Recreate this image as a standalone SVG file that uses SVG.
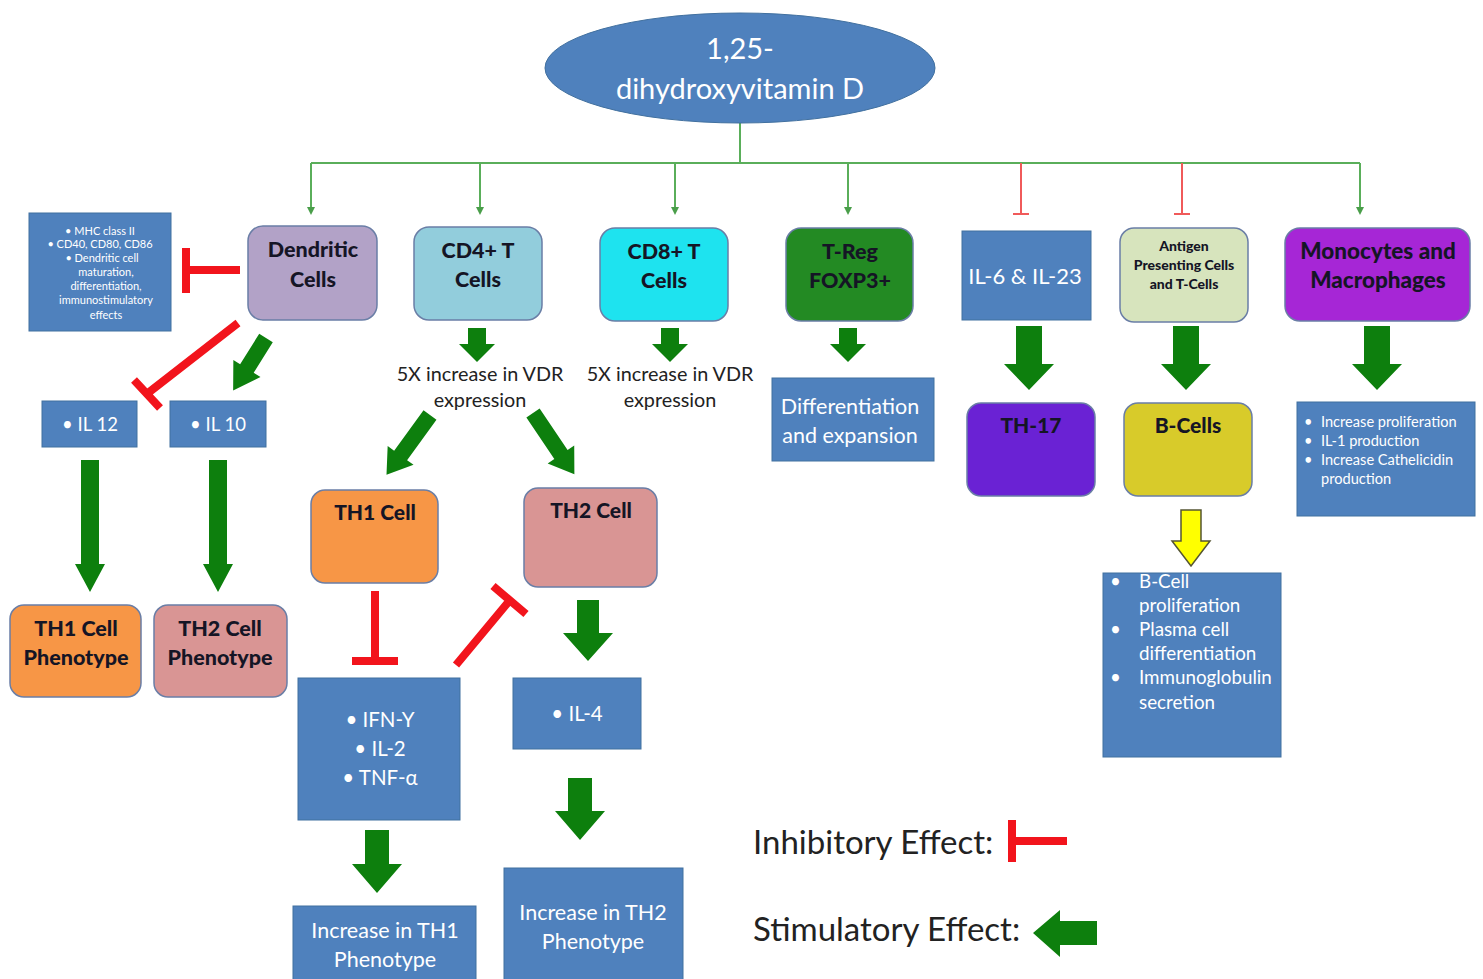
<svg xmlns="http://www.w3.org/2000/svg" width="1483" height="979" viewBox="0 0 1483 979">
<defs>
<style>
.bx{fill:#4f81bd;stroke:#41709f;stroke-width:1}
.rn{stroke:#6a7ea6;stroke-width:1.5}
.wt{fill:#ffffff;font-family:Lato,"Open Sans",sans-serif}
.nt{fill:#151525;font-family:Lato,"Open Sans",sans-serif;font-weight:900}
.dk{fill:#222222;font-family:Lato,"Open Sans",sans-serif}
.ga{fill:#0d7f0d}
.thin{stroke:#5aae5a;stroke-width:2;fill:none}
.thinr{stroke:#f05a5a;stroke-width:2;fill:none}
.inh{stroke:#f2141c;stroke-width:8;fill:none}
</style>
<marker id="ah" markerWidth="8" markerHeight="8" refX="4" refY="4" orient="auto" markerUnits="userSpaceOnUse">
<path d="M0,0 L8,4 L0,8 Z" fill="#4a9e4a"/>
</marker>
</defs>
<rect width="1483" height="979" fill="#ffffff"/>

<g id="connectors">
<path class="thin" d="M740,123 V163 M311,163 H1360"/>
<path class="thin" d="M311,163 V211" marker-end="url(#ah)"/>
<path class="thin" d="M480,163 V211" marker-end="url(#ah)"/>
<path class="thin" d="M675,163 V211" marker-end="url(#ah)"/>
<path class="thin" d="M848,163 V211" marker-end="url(#ah)"/>
<path class="thin" d="M1360,163 V211" marker-end="url(#ah)"/>
<path class="thinr" d="M1021,163 V214 M1013,214 H1029"/>
<path class="thinr" d="M1182,163 V214 M1174,214 H1190"/>

<path class="inh" d="M240,270 H186 M186,248 V293"/>
<path class="inh" d="M238,323 L148,393 M134,380 L160,408"/>
<path class="inh" d="M375,591 V660 M352,661 H398"/>
<path class="inh" d="M456,665 L510,600 M493,586 L526,614"/>

<polygon class="ga" transform="translate(266,338) rotate(122)" points="0,-8 36,-8 36,-16 62,0 36,16 36,8 0,8"/>
<polygon class="ga" points="81,460 99,460 99,564 105,564 90,592 75,564 81,564"/>
<polygon class="ga" points="209,460 227,460 227,564 233,564 218,592 203,564 209,564"/>
<polygon class="ga" points="468,328 486,328 486,344 495,344 477,362 459,344 468,344"/>
<polygon class="ga" points="661,328 679,328 679,344 688,344 670,362 652,344 661,344"/>
<polygon class="ga" points="839,328 857,328 857,344 866,344 848,362 830,344 839,344"/>
<polygon class="ga" transform="translate(430,415) rotate(126)" points="0,-8 50,-8 50,-16 74,0 50,16 50,8 0,8"/>
<polygon class="ga" transform="translate(533,413) rotate(56)" points="0,-8 50,-8 50,-16 74,0 50,16 50,8 0,8"/>
<polygon class="ga" points="577,600 599,600 599,633 613,633 588,661 563,633 577,633"/>
<polygon class="ga" points="365,830 389,830 389,864 402,864 377,893 352,864 365,864"/>
<polygon class="ga" points="568,778 592,778 592,811 605,811 580,840 555,811 568,811"/>
<polygon class="ga" points="1016,326 1042,326 1042,364 1054,364 1029,390 1004,364 1016,364"/>
<polygon class="ga" points="1173,326 1199,326 1199,364 1211,364 1186,390 1161,364 1173,364"/>
<polygon class="ga" points="1364,326 1390,326 1390,364 1402,364 1377,390 1352,364 1364,364"/>
<polygon points="1181,510 1201,510 1201,541 1210,541 1191,566 1172,541 1181,541" fill="#ffff00" stroke="#555533" stroke-width="1.5"/>
</g>

<g id="vitd">
<ellipse cx="740" cy="68" rx="195" ry="55" fill="#4f81bd" stroke="#41709f" stroke-width="1"/>
<text class="wt" x="740" y="59" font-size="29" text-anchor="middle">1,25-</text>
<text class="wt" x="740" y="99" font-size="29" text-anchor="middle">dihydroxyvitamin D</text>
</g>

<g id="mhc">
<rect class="bx" x="29" y="213" width="142" height="118"/>
<g class="wt" font-size="11" text-anchor="middle">
<text x="100" y="235">•   MHC class II</text>
<text x="100" y="248">•  CD40, CD80, CD86</text>
<text x="102" y="262">•   Dendritic cell</text>
<text x="106" y="276">maturation,</text>
<text x="106" y="290">differentiation,</text>
<text x="106" y="304">immunostimulatory</text>
<text x="106" y="319">effects</text>
</g>
</g>

<g id="dendritic">
<rect class="rn" x="248" y="226" width="129" height="94" rx="15" fill="#b2a2c7"/>
<text class="nt" x="313" y="257" font-size="21.5" text-anchor="middle">Dendritic</text>
<text class="nt" x="313" y="287" font-size="21.5" text-anchor="middle">Cells</text>
</g>

<g id="il12">
<rect class="bx" x="42" y="401" width="95" height="46"/>
<text class="wt" x="90" y="431" font-size="18.5" text-anchor="middle">• IL 12</text>
</g>
<g id="il10">
<rect class="bx" x="170" y="401" width="96" height="46"/>
<text class="wt" x="218" y="431" font-size="18.5" text-anchor="middle">• IL 10</text>
</g>

<g id="th1pheno">
<rect class="rn" x="10" y="605" width="131" height="92" rx="14" fill="#f79646"/>
<text class="nt" x="76" y="636" font-size="21.5" text-anchor="middle">TH1 Cell</text>
<text class="nt" x="76" y="665" font-size="21.5" text-anchor="middle">Phenotype</text>
</g>
<g id="th2pheno">
<rect class="rn" x="154" y="605" width="133" height="92" rx="14" fill="#d99594"/>
<text class="nt" x="220" y="636" font-size="21.5" text-anchor="middle">TH2 Cell</text>
<text class="nt" x="220" y="665" font-size="21.5" text-anchor="middle">Phenotype</text>
</g>

<g id="cd4">
<rect class="rn" x="414" y="227" width="128" height="93" rx="15" fill="#92cddc"/>
<text class="nt" x="478" y="258" font-size="21.5" text-anchor="middle">CD4+ T</text>
<text class="nt" x="478" y="287" font-size="21.5" text-anchor="middle">Cells</text>
</g>
<g id="cd4vdr">
<text class="dk" x="480" y="381" font-size="19.8" text-anchor="middle">5X increase in VDR</text>
<text class="dk" x="480" y="407" font-size="19.8" text-anchor="middle">expression</text>
</g>

<g id="th1">
<rect class="rn" x="311" y="490" width="127" height="93" rx="14" fill="#f79646"/>
<text class="nt" x="375" y="520" font-size="21" text-anchor="middle">TH1 Cell</text>
</g>
<g id="th2">
<rect class="rn" x="524" y="488" width="133" height="99" rx="14" fill="#d99594"/>
<text class="nt" x="591" y="518" font-size="21" text-anchor="middle">TH2 Cell</text>
</g>

<g id="ifn">
<rect class="bx" x="298" y="678" width="162" height="142"/>
<text class="wt" x="380" y="727" font-size="20.5" text-anchor="middle">• IFN-Y</text>
<text class="wt" x="380" y="756" font-size="20.5" text-anchor="middle">• IL-2</text>
<text class="wt" x="380" y="785" font-size="20.5" text-anchor="middle">• TNF-α</text>
</g>
<g id="il4">
<rect class="bx" x="513" y="678" width="128" height="71"/>
<text class="wt" x="577" y="721" font-size="20.5" text-anchor="middle">• IL-4</text>
</g>

<g id="incth1">
<rect class="bx" x="293" y="906" width="183" height="80"/>
<text class="wt" x="385" y="938" font-size="21.5" text-anchor="middle">Increase in TH1</text>
<text class="wt" x="385" y="967" font-size="21.5" text-anchor="middle">Phenotype</text>
</g>
<g id="incth2">
<rect class="bx" x="504" y="868" width="179" height="118"/>
<text class="wt" x="593" y="920" font-size="21.5" text-anchor="middle">Increase in TH2</text>
<text class="wt" x="593" y="949" font-size="21.5" text-anchor="middle">Phenotype</text>
</g>

<g id="cd8">
<rect class="rn" x="600" y="228" width="128" height="93" rx="15" fill="#1ee3ef"/>
<text class="nt" x="664" y="259" font-size="21.5" text-anchor="middle">CD8+ T</text>
<text class="nt" x="664" y="288" font-size="21.5" text-anchor="middle">Cells</text>
</g>
<g id="cd8vdr">
<text class="dk" x="670" y="381" font-size="19.8" text-anchor="middle">5X increase in VDR</text>
<text class="dk" x="670" y="407" font-size="19.8" text-anchor="middle">expression</text>
</g>

<g id="treg">
<rect class="rn" x="786" y="228" width="127" height="93" rx="15" fill="#238a23"/>
<text class="nt" x="850" y="259" font-size="21.5" text-anchor="middle">T-Reg</text>
<text class="nt" x="850" y="288" font-size="21.5" text-anchor="middle">FOXP3+</text>
</g>
<g id="diffexp">
<rect class="bx" x="772" y="378" width="162" height="83"/>
<text class="wt" x="850" y="414" font-size="21.5" text-anchor="middle">Differentiation</text>
<text class="wt" x="850" y="443" font-size="21.5" text-anchor="middle">and expansion</text>
</g>

<g id="il6">
<rect class="bx" x="962" y="231" width="129" height="89"/>
<text class="wt" x="1025" y="284" font-size="22" text-anchor="middle">IL-6 &amp; IL-23</text>
</g>
<g id="th17">
<rect class="rn" x="967" y="403" width="128" height="93" rx="14" fill="#6a22d4"/>
<text class="nt" x="1031" y="433" font-size="21" text-anchor="middle">TH-17</text>
</g>

<g id="apc">
<rect class="rn" x="1120" y="228" width="128" height="94" rx="14" fill="#d7e4bd"/>
<text class="nt" x="1184" y="251" font-size="14" text-anchor="middle">Antigen</text>
<text class="nt" x="1184" y="270" font-size="14" text-anchor="middle">Presenting Cells</text>
<text class="nt" x="1184" y="289" font-size="14" text-anchor="middle">and T-Cells</text>
</g>
<g id="bcells">
<rect class="rn" x="1124" y="403" width="128" height="93" rx="14" fill="#d8cb2a"/>
<text class="nt" x="1188" y="433" font-size="21" text-anchor="middle">B-Cells</text>
</g>
<g id="bcellfx">
<rect class="bx" x="1103" y="573" width="178" height="184"/>
<g class="wt" font-size="18.8">
<text x="1110" y="588">•</text>
<text x="1139" y="588">B-Cell</text>
<text x="1139" y="612">proliferation</text>
<text x="1110" y="636">•</text>
<text x="1139" y="636">Plasma cell</text>
<text x="1139" y="660">differentiation</text>
<text x="1110" y="684">•</text>
<text x="1139" y="684">Immunoglobulin</text>
<text x="1139" y="709">secretion</text>
</g>
</g>

<g id="mono">
<rect class="rn" x="1285" y="228" width="185" height="93" rx="15" fill="#a626d6"/>
<text class="nt" x="1378" y="259" font-size="22.5" text-anchor="middle">Monocytes and</text>
<text class="nt" x="1378" y="288" font-size="22.5" text-anchor="middle">Macrophages</text>
</g>
<g id="monofx">
<rect class="bx" x="1297" y="402" width="178" height="114"/>
<g class="wt" font-size="14.6">
<text x="1304" y="427">•</text>
<text x="1321" y="427">Increase proliferation</text>
<text x="1304" y="446">•</text>
<text x="1321" y="446">IL-1 production</text>
<text x="1304" y="465">•</text>
<text x="1321" y="465">Increase Cathelicidin</text>
<text x="1321" y="484">production</text>
</g>
</g>

<g id="legend">
<text class="dk" x="753" y="854" font-size="33">Inhibitory Effect:</text>
<path class="inh" d="M1012,820 V862 M1012,841 H1067"/>
<text class="dk" x="753" y="941" font-size="33">Stimulatory Effect:</text>
<polygon class="ga" points="1097,921 1097,945 1060,945 1060,957 1033,933 1060,910 1060,921"/>
</g>
</svg>
